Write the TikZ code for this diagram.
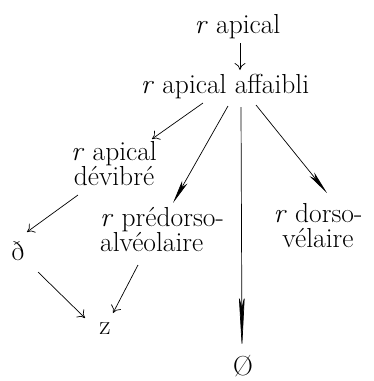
\documentclass[tikz,border=0pt]{standalone}
\usetikzlibrary{arrows.meta,calc}
\begin{document}
\begin{tikzpicture}[x=1pt,y=-1pt,every node/.style={inner sep=0pt,font=\fontsize{27.5}{25}\selectfont},
  fl/.style={-{To[length=7pt,width=11pt]},line width=0.7pt},
  lfl/.style={-{Stealth[length=24pt,width=6pt,inset=6pt]},line width=0.7pt}]
  \useasboundingbox (0,0) rectangle (373,381);
  % Sommets
  \node (ap) at (237.5,27) {\textit{r} apical};
  \node (aff) at (225,86.5) {\textit{r} apical affaibli};
  \node[align=center] (dev) at (114,164) {\textit{r} apical\\dévibré};
  \node[align=left] (pre) at (162,230) {\textit{r} prédorso-\\alvéolaire};
  \node[align=center] (dor) at (318,226) {\textit{r} dorso-\\vélaire};
  \node (eth) at (18,251) {ð};
  \node (z) at (105,328.5) {z};
  \node (nul) at (243,366) {Ø};

  % Flèches courtes
  \draw[fl] ($(ap)+(2.5,16)$) -- ($(aff)+(15,-16.5)$);
  \draw[fl] ($(aff)+(-22,16.5)$) -- ($(dev)+(38,-25)$);
  \draw[fl] ($(dev)+(-36,31)$) -- ($(eth)+(9,-19)$);
  \draw[fl] ($(eth)+(20,21)$) -- ($(z)+(-20,-10.5)$);
  \draw[fl] ($(pre)+(-24,35)$) -- ($(z)+(8,-15.5)$);

  % Flèches longues
  \draw[lfl] ($(aff)+(3,19.5)$) -- ($(pre)+(11,-27)$);
  \draw[lfl] ($(aff)+(31,18.5)$) -- ($(dor)+(9,-33)$);
  \draw[lfl,-{Stealth[length=55pt,width=6pt,inset=12pt]}] ($(aff)+(16,20.5)$) -- ($(nul)+(-1,-16)$);
\end{tikzpicture}
\end{document}
